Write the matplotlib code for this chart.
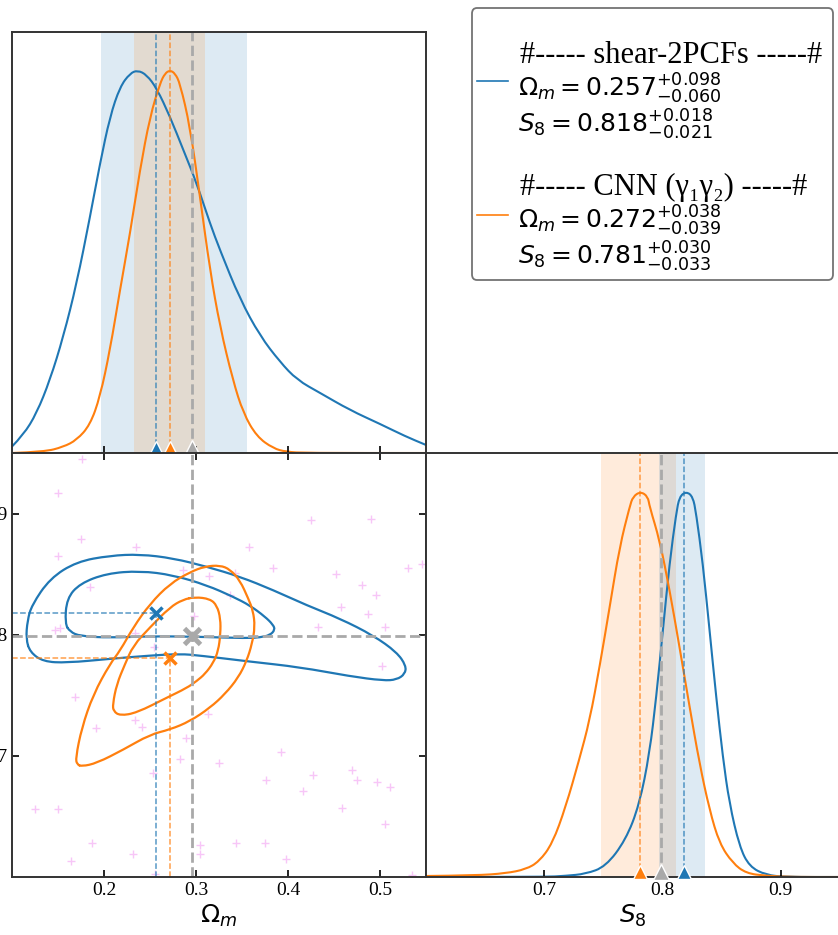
import matplotlib
matplotlib.use('Agg')
import matplotlib.pyplot as plt
from matplotlib.lines import Line2D
from matplotlib.path import Path
from matplotlib.patches import PathPatch, FancyBboxPatch

plt.rcParams['font.family'] = ['Liberation Serif', 'DejaVu Serif']
plt.rcParams['mathtext.fontset'] = 'dejavusans'

# best fits, fiducial and 1-sigma ranges
om_2pcf, s8_2pcf = 0.257, 0.818
om_cnn, s8_cnn = 0.272, 0.781
om_fid, s8_fid = 0.296, 0.799
om_band_2pcf = [0.197, 0.355]
om_band_cnn = [0.233, 0.310]
s8_band_2pcf = [0.797, 0.836]
s8_band_cnn = [0.748, 0.811]

# 1D posteriors (peak normalised to 1)
om_x_2pcf = [0.1, 0.1123, 0.1268, 0.1413, 0.1558, 0.1703, 0.1848, 0.1957, 0.2065, 0.2174,
             0.2283, 0.2366, 0.2464, 0.2573, 0.2717, 0.2862, 0.3007, 0.3152, 0.3261, 0.3478,
             0.3696, 0.3913, 0.4098, 0.4348, 0.4674, 0.5, 0.5272, 0.55]
om_p_2pcf = [0.017, 0.047, 0.104, 0.191, 0.304, 0.443, 0.617, 0.757, 0.879, 0.957,
             0.992, 1.0, 0.988, 0.953, 0.879, 0.792, 0.705, 0.600, 0.530, 0.402,
             0.306, 0.238, 0.191, 0.157, 0.112, 0.076, 0.044, 0.021]
om_x_cnn = [0.1, 0.135, 0.1558, 0.1703, 0.1848, 0.1957, 0.2065, 0.2174, 0.2283, 0.2391,
            0.25, 0.2609, 0.2663, 0.2717, 0.2772, 0.2826, 0.2935, 0.3043, 0.3152, 0.3261,
            0.34, 0.3514, 0.366, 0.384, 0.398, 0.42, 0.55]
om_p_cnn = [0.0, 0.003, 0.016, 0.034, 0.073, 0.147, 0.269, 0.426, 0.574, 0.740,
            0.879, 0.966, 0.992, 1.0, 0.992, 0.966, 0.853, 0.670, 0.478, 0.330,
            0.191, 0.104, 0.043, 0.012, 0.003, 0.0, 0.0]
s8_x_2pcf = [0.6, 0.70, 0.718, 0.735, 0.7519, 0.7688, 0.7803, 0.789, 0.7947, 0.8003,
             0.8059, 0.8115, 0.8143, 0.82, 0.8256, 0.8284, 0.834, 0.8397, 0.8453, 0.8509,
             0.8565, 0.865, 0.8734, 0.8875, 0.905, 0.95]
s8_p_2pcf = [0.0, 0.0, 0.003, 0.008, 0.027, 0.096, 0.187, 0.321, 0.468, 0.641,
             0.814, 0.943, 0.987, 1.0, 0.987, 0.943, 0.814, 0.641, 0.468, 0.312,
             0.191, 0.079, 0.027, 0.005, 0.0, 0.0]
s8_x_cnn = [0.6, 0.6422, 0.6675, 0.6844, 0.6956, 0.7069, 0.7181, 0.7294, 0.7384, 0.7468,
            0.7553, 0.7637, 0.7722, 0.775, 0.7814, 0.7876, 0.789, 0.7975, 0.8059, 0.8143,
            0.8228, 0.8312, 0.8397, 0.8481, 0.8593, 0.8706, 0.8875, 0.91, 0.95]
s8_p_cnn = [0.0026, 0.004, 0.0096, 0.020, 0.040, 0.087, 0.182, 0.303, 0.407, 0.546,
            0.701, 0.857, 0.961, 0.987, 1.0, 0.987, 0.961, 0.874, 0.745, 0.597,
            0.442, 0.295, 0.174, 0.087, 0.036, 0.0096, 0.003, 0.0, 0.0]

# 2D contours (Omega_m, S8), closed loops
c_2pcf_outer_om = [0.1152, 0.1168, 0.1214, 0.1413, 0.1703, 0.2065, 0.2391, 0.2753, 0.3116, 0.3478,
                   0.384, 0.4203, 0.4565, 0.4927, 0.5182, 0.5283, 0.5272, 0.5182, 0.5036, 0.4674,
                   0.413, 0.3587, 0.3043, 0.2826, 0.25, 0.2065, 0.1595, 0.134, 0.1196]
c_2pcf_outer_s8 = [0.7967, 0.8116, 0.8243, 0.8465, 0.8603, 0.8653, 0.8664, 0.8631, 0.8562, 0.8479,
                   0.8368, 0.8243, 0.8133, 0.7994, 0.7856, 0.7745, 0.7676, 0.7629, 0.7621, 0.7657,
                   0.7732, 0.7778, 0.7828, 0.7842, 0.7828, 0.7801, 0.7768, 0.7778, 0.7856]
c_2pcf_inner_om = [0.1576, 0.1595, 0.1739, 0.2029, 0.2391, 0.2753, 0.3116, 0.3405, 0.3587, 0.375,
                   0.3837, 0.3859, 0.3804, 0.3696, 0.3551, 0.3043, 0.25, 0.2065, 0.1739, 0.163]
c_2pcf_inner_s8 = [0.8091, 0.8299, 0.8423, 0.8506, 0.8527, 0.8492, 0.8409, 0.8313, 0.8241, 0.8149,
                   0.8083, 0.8041, 0.7996, 0.7978, 0.7971, 0.7983, 0.7988, 0.7975, 0.7988, 0.8025]
c_cnn_outer_om = [0.1758, 0.1921, 0.221, 0.25, 0.2717, 0.2935, 0.3152, 0.3315, 0.346, 0.3551,
                  0.3609, 0.3641, 0.362, 0.3568, 0.3478, 0.337, 0.3261, 0.3098, 0.2935, 0.2717,
                  0.25, 0.2318, 0.2174, 0.2065, 0.1884, 0.1758, 0.1692, 0.1707]
c_cnn_outer_s8 = [0.6913, 0.6940, 0.7051, 0.7176, 0.7217, 0.7286, 0.7397, 0.751, 0.7646, 0.7784,
                  0.7925, 0.8066, 0.8199, 0.8299, 0.8448, 0.8539, 0.8573, 0.8564, 0.8517, 0.8421,
                  0.8255, 0.8061, 0.7867, 0.7759, 0.7508, 0.7231, 0.6982, 0.693]
c_cnn_inner_om = [0.2989, 0.3152, 0.3228, 0.3266, 0.3266, 0.3242, 0.3188, 0.3098, 0.3008, 0.2899,
                  0.2682, 0.2355, 0.2174, 0.2103, 0.2095, 0.2138, 0.2228, 0.2318, 0.25, 0.2717,
                  0.2859]
c_cnn_inner_s8 = [0.8311, 0.8296, 0.8241, 0.8133, 0.8008, 0.7867, 0.7768, 0.7676, 0.7618, 0.756,
                  0.748, 0.7355, 0.7332, 0.7369, 0.7425, 0.7591, 0.7757, 0.7911, 0.8061, 0.8227,
                  0.829]

# simulation cosmologies (light crosses)
sims_om = [0.1758, 0.1503, 0.1747, 0.1503, 0.2348, 0.1848, 0.2862, 0.3141, 0.1467, 0.1522,
           0.2337, 0.2978, 0.2543, 0.425, 0.4899, 0.3579, 0.384, 0.3424, 0.5301, 0.5453,
           0.4522, 0.4801, 0.4957, 0.337, 0.4576, 0.4873, 0.4329, 0.5054, 0.5018, 0.1685,
           0.1913, 0.2337, 0.241, 0.2891, 0.3134, 0.2826, 0.2529, 0.325, 0.125, 0.1497,
           0.187, 0.2318, 0.1638, 0.3043, 0.3043, 0.2554, 0.3921, 0.3758, 0.4268, 0.416,
           0.4692, 0.4753, 0.4971, 0.5109, 0.4584, 0.5054, 0.3432, 0.375, 0.3978, 0.5351]
sims_s8 = [0.9450, 0.9168, 0.8786, 0.8647, 0.8724, 0.8393, 0.8531, 0.8487, 0.8039, 0.8056,
           0.8011, 0.8152, 0.7895, 0.8946, 0.8952, 0.8724, 0.8554, 0.8509, 0.855, 0.8587,
           0.8504, 0.8407, 0.833, 0.8324, 0.8227, 0.8172, 0.8061, 0.8061, 0.7739, 0.7488,
           0.7231, 0.73, 0.7237, 0.7148, 0.7347, 0.6973, 0.6857, 0.694, 0.6558, 0.6564,
           0.628, 0.6188, 0.6133, 0.6266, 0.6191, 0.6025, 0.7032, 0.6802, 0.6838, 0.6711,
           0.688, 0.6797, 0.6786, 0.6741, 0.6567, 0.6437, 0.6282, 0.6282, 0.6147, 0.6014]

headers = ['#----- shear-2PCFs -----#', '#----- CNN (γ\u2081γ\u2082) -----#']
om_lines = [r'$\Omega_m=0.257^{+0.098}_{-0.060}$', r'$\Omega_m=0.272^{+0.038}_{-0.039}$']
s8_lines = [r'$S_8=0.818^{+0.018}_{-0.021}$', r'$S_8=0.781^{+0.030}_{-0.033}$']

c1 = '#1f77b4'
c2 = '#ff7f0e'
cfid = '#a9a9a9'
om_lim = (0.1, 0.55)
s8_lim = (0.6, 0.95)


#smooth curve drawn with quadratic bezier pieces through the read points
def smooth(ax, xs, ys, closed=False, **kw):
    pts = list(zip(xs, ys))
    mid = lambda a, b: ((a[0]+b[0])/2, (a[1]+b[1])/2)
    n = len(pts)
    if closed:
        verts = [mid(pts[-1], pts[0])]
        codes = [Path.MOVETO]
        for i in range(n):
            verts += [pts[i], mid(pts[i], pts[(i+1) % n])]
            codes += [Path.CURVE3, Path.CURVE3]
    else:
        verts = [pts[0]]
        codes = [Path.MOVETO]
        for i in range(1, n-1):
            verts += [pts[i], mid(pts[i], pts[i+1])]
            codes += [Path.CURVE3, Path.CURVE3]
        verts.append(pts[-1])
        codes.append(Path.LINETO)
    ax.add_patch(PathPatch(Path(verts, codes), fill=False, capstyle='round', joinstyle='round', **kw))


fig = plt.figure(figsize=(8.38, 9.35), dpi=100)
ax_top = fig.add_axes([12/838, 1-453/935, 414/838, 421/935])
ax_2d = fig.add_axes([12/838, 1-877/935, 414/838, 424/935])
ax_s8 = fig.add_axes([426/838, 1-877/935, 414/838, 424/935])

#Omega_m marginal
ax_top.axvspan(om_band_2pcf[0], om_band_2pcf[1], color=c1, alpha=0.15, lw=0)
ax_top.axvspan(om_band_cnn[0], om_band_cnn[1], color=c2, alpha=0.15, lw=0)
smooth(ax_top, om_x_2pcf, om_p_2pcf, ec=c1, lw=1.5)
smooth(ax_top, om_x_cnn, om_p_cnn, ec=c2, lw=1.5)
ax_top.axvline(om_2pcf, color=c1, ls='--', lw=1.1, alpha=0.75)
ax_top.axvline(om_cnn, color=c2, ls='--', lw=1.1, alpha=0.75)
ax_top.axvline(om_fid, color=cfid, ls='--', lw=2)
ax_top.plot([om_2pcf], [0.013], '^', color=c1, ms=10, mec='white', mew=1, clip_on=False, zorder=5)
ax_top.plot([om_cnn], [0.013], '^', color=c2, ms=10, mec='white', mew=1, clip_on=False, zorder=5)
ax_top.plot([om_fid], [0.013], '^', color=cfid, ms=12, mec='white', mew=1, clip_on=False, zorder=5)
ax_top.set_xlim(om_lim)
ax_top.set_ylim(0, 1.1)
ax_top.set_yticks([])
ax_top.set_xticks([0.2, 0.3, 0.4, 0.5])
ax_top.tick_params(axis='x', direction='in', labelbottom=False, length=5, width=1.2)

#2D panel
ax_2d.plot(sims_om, sims_s8, '+', color='violet', alpha=0.45, ms=6, mew=1, zorder=1)
smooth(ax_2d, c_2pcf_outer_om, c_2pcf_outer_s8, closed=True, ec=c1, lw=1.6)
smooth(ax_2d, c_2pcf_inner_om, c_2pcf_inner_s8, closed=True, ec=c1, lw=1.6)
smooth(ax_2d, c_cnn_outer_om, c_cnn_outer_s8, closed=True, ec=c2, lw=1.6)
smooth(ax_2d, c_cnn_inner_om, c_cnn_inner_s8, closed=True, ec=c2, lw=1.6)
ax_2d.axvline(om_fid, color=cfid, ls='--', lw=2)
ax_2d.axhline(s8_fid, color=cfid, ls='--', lw=2)
ax_2d.plot([om_lim[0], om_2pcf], [s8_2pcf, s8_2pcf], color=c1, ls='--', lw=1.1, alpha=0.75)
ax_2d.plot([om_2pcf, om_2pcf], [s8_lim[0], s8_2pcf], color=c1, ls='--', lw=1.1, alpha=0.75)
ax_2d.plot([om_lim[0], om_cnn], [s8_cnn, s8_cnn], color=c2, ls='--', lw=1.1, alpha=0.75)
ax_2d.plot([om_cnn, om_cnn], [s8_lim[0], s8_cnn], color=c2, ls='--', lw=1.1, alpha=0.75)
ax_2d.plot([om_2pcf], [s8_2pcf], 'x', color=c1, ms=8, mew=2.5, zorder=5)
ax_2d.plot([om_cnn], [s8_cnn], 'x', color=c2, ms=8, mew=2.5, zorder=5)
ax_2d.plot([om_fid], [s8_fid], 'x', color=cfid, ms=11, mew=3.5, zorder=5)
ax_2d.set_xlim(om_lim)
ax_2d.set_ylim(s8_lim)
ax_2d.set_xticks([0.2, 0.3, 0.4, 0.5])
ax_2d.set_yticks([0.7, 0.8, 0.9])
ax_2d.tick_params(direction='in', top=True, right=True, length=5, width=1.2, labelsize=14)
ax_2d.set_xlabel(r'$\Omega_m$', fontsize=18, labelpad=3)

#S8 marginal
ax_s8.axvspan(s8_band_cnn[0], s8_band_cnn[1], color=c2, alpha=0.15, lw=0)
ax_s8.axvspan(s8_band_2pcf[0], s8_band_2pcf[1], color=c1, alpha=0.15, lw=0)
smooth(ax_s8, s8_x_2pcf, s8_p_2pcf, ec=c1, lw=1.5)
smooth(ax_s8, s8_x_cnn, s8_p_cnn, ec=c2, lw=1.5)
ax_s8.axvline(s8_2pcf, color=c1, ls='--', lw=1.1, alpha=0.75)
ax_s8.axvline(s8_cnn, color=c2, ls='--', lw=1.1, alpha=0.75)
ax_s8.axvline(s8_fid, color=cfid, ls='--', lw=2)
ax_s8.plot([s8_2pcf], [0.013], '^', color=c1, ms=10, mec='white', mew=1, clip_on=False, zorder=5)
ax_s8.plot([s8_cnn], [0.013], '^', color=c2, ms=10, mec='white', mew=1, clip_on=False, zorder=5)
ax_s8.plot([s8_fid], [0.013], '^', color=cfid, ms=12, mec='white', mew=1, clip_on=False, zorder=5)
ax_s8.set_xlim(s8_lim)
ax_s8.set_ylim(0, 1.1)
ax_s8.set_yticks([])
ax_s8.set_xticks([0.7, 0.8, 0.9])
ax_s8.tick_params(axis='x', direction='in', length=5, width=1.2, labelsize=14)
ax_s8.set_xlabel(r'$S_8$', fontsize=18, labelpad=3)

for ax in [ax_top, ax_2d, ax_s8]:
    for sp in ax.spines.values():
        sp.set_color('#333333')
        sp.set_linewidth(1.4)

#legend box drawn by hand so the serif headers can be bigger than the math lines
fig.add_artist(FancyBboxPatch((472/838, 1-280/935), 361/838, 272/935,
                              boxstyle='round,pad=0,rounding_size=0.006', transform=fig.transFigure,
                              fc='white', ec='0.45', lw=1.3))
handle_y = [81, 215]
for i, col in enumerate([c1, c2]):
    top = 63 + 132*i
    fig.add_artist(Line2D([477/838, 508/838], [1-handle_y[i]/935]*2, transform=fig.transFigure,
                          color=col, lw=1.2))
    fig.text(520/838, 1-top/935, headers[i], fontsize=22, va='baseline')
    fig.text(518/838, 1-(top+34)/935, om_lines[i], fontsize=18, va='baseline')
    fig.text(518/838, 1-(top+70)/935, s8_lines[i], fontsize=18, va='baseline')

fig.savefig('out.png', dpi=100)
